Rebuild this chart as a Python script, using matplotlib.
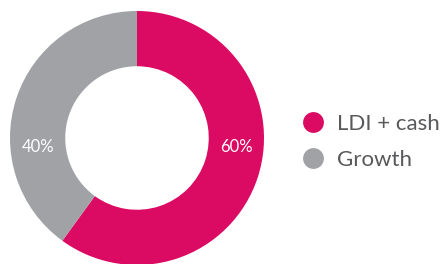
import matplotlib.pyplot as plt
from matplotlib.lines import Line2D

labels = ['LDI + cash', 'Growth']
values = [60, 40]
colors = ['#DB0A63', '#A1A2A6']

fig = plt.figure(figsize=(4.46, 2.64), dpi=100)
plt.rcParams['font.family'] = ['Lato', 'DejaVu Sans']

# pie axes: centre ~ (137, 138) px, radius ~127 px
ax = fig.add_axes([10 / 446, -1 / 264, 254 / 446, 254 / 264])
wedges, _ = ax.pie(values, colors=colors, startangle=90, counterclock=False,
                   radius=1.0, wedgeprops=dict(width=0.435, edgecolor='none'))
ax.set_xlim(-1, 1)
ax.set_ylim(-1, 1)
ax.set_aspect('equal')

ax.text(0.78, -0.07, f'{values[0]}%', color='white', fontsize=12, ha='center', va='center')
ax.text(-0.78, -0.07, f'{values[1]}%', color='white', fontsize=12, ha='center', va='center')

handles = [Line2D([], [], marker='o', linestyle='none', markersize=15,
                  markerfacecolor=c, markeredgecolor='none') for c in colors]
leg = fig.legend(handles, labels, loc='center left', bbox_to_anchor=(280 / 446, 122 / 264),
                 frameon=False, fontsize=16, handletextpad=0.45, labelspacing=0.7,
                 handlelength=1.2)
for t in leg.get_texts():
    t.set_color('#58595B')

fig.savefig('out.png', dpi=100)
